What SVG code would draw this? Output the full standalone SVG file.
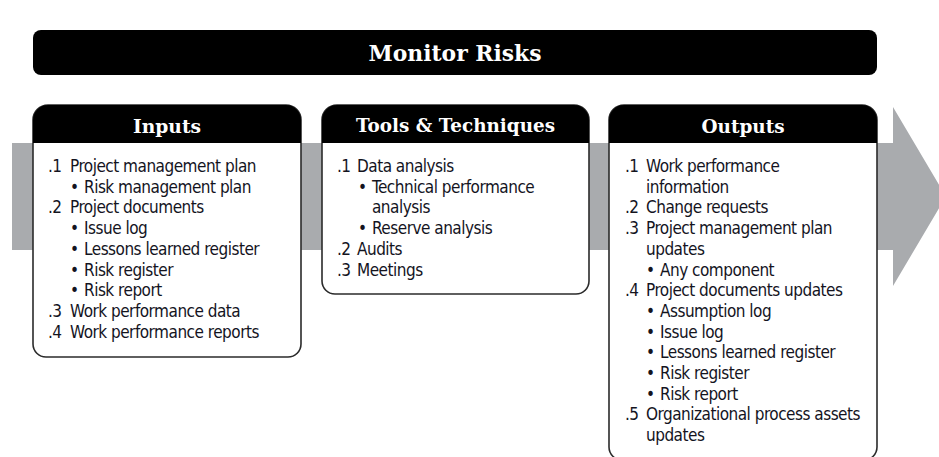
<svg xmlns="http://www.w3.org/2000/svg" width="939" height="457" viewBox="0 0 939 457">
<style>
.box{fill:#fff;stroke:#2b2b2b;stroke-width:1.6}
.hdr{fill:#000}
.ht{font-family:"DejaVu Serif","Liberation Serif",serif;font-weight:bold;fill:#fff;text-anchor:middle}
.t{font-family:"DejaVu Sans Condensed","Liberation Sans",sans-serif;font-size:17px;letter-spacing:-0.5px;fill:#14141e}
</style>
<rect width="939" height="457" fill="#fff"/>
<g id="flow-arrow">
<path d="M12,143 H893 V107 L946,196.5 L893,286 V250 H12 Z" fill="#a9abae"/>
</g>
<g id="title">
<rect x="33" y="30" width="844" height="45" rx="8" fill="#000"/>
<text class="ht" x="455" y="61" font-size="22" textLength="173" lengthAdjust="spacingAndGlyphs">Monitor Risks</text>
</g>
<g id="inputs">
<path class="box" d="M33,120 A15,15 0 0 1 48,105 H286 A15,15 0 0 1 301,120 V344 A13,13 0 0 1 288,357 H46 A13,13 0 0 1 33,344 Z"/>
<path class="hdr" d="M33,143 V120 A15,15 0 0 1 48,105 H286 A15,15 0 0 1 301,120 V143 Z"/>
<text class="ht" x="167" y="133" font-size="18" textLength="68" lengthAdjust="spacingAndGlyphs">Inputs</text>
<text class="t" x="48" y="172">.1</text><text class="t" x="70" y="172">Project management plan</text>
<text class="t" x="70" y="192.7">•</text><text class="t" x="84" y="192.7">Risk management plan</text>
<text class="t" x="48" y="213.4">.2</text><text class="t" x="70" y="213.4">Project documents</text>
<text class="t" x="70" y="234.1">•</text><text class="t" x="84" y="234.1">Issue log</text>
<text class="t" x="70" y="254.8">•</text><text class="t" x="84" y="254.8">Lessons learned register</text>
<text class="t" x="70" y="275.5">•</text><text class="t" x="84" y="275.5">Risk register</text>
<text class="t" x="70" y="296.2">•</text><text class="t" x="84" y="296.2">Risk report</text>
<text class="t" x="48" y="316.9">.3</text><text class="t" x="70" y="316.9">Work performance data</text>
<text class="t" x="48" y="337.6">.4</text><text class="t" x="70" y="337.6">Work performance reports</text>
</g>
<g id="tools">
<path class="box" d="M322,120 A15,15 0 0 1 337,105 H574 A15,15 0 0 1 589,120 V281 A13,13 0 0 1 576,294 H335 A13,13 0 0 1 322,281 Z"/>
<path class="hdr" d="M322,143 V120 A15,15 0 0 1 337,105 H574 A15,15 0 0 1 589,120 V143 Z"/>
<text class="ht" x="455.5" y="132" font-size="18" textLength="199" lengthAdjust="spacingAndGlyphs">Tools &amp; Techniques</text>
<text class="t" x="337" y="172">.1</text><text class="t" x="357" y="172">Data analysis</text>
<text class="t" x="358" y="192.7">•</text><text class="t" x="372" y="192.7">Technical performance</text>
<text class="t" x="372" y="213.4">analysis</text>
<text class="t" x="358" y="234.1">•</text><text class="t" x="372" y="234.1">Reserve analysis</text>
<text class="t" x="337" y="254.8">.2</text><text class="t" x="357" y="254.8">Audits</text>
<text class="t" x="337" y="275.5">.3</text><text class="t" x="357" y="275.5">Meetings</text>
</g>
<g id="outputs">
<path class="box" d="M609,120 A15,15 0 0 1 624,105 H862 A15,15 0 0 1 877,120 V447 A13,13 0 0 1 864,460 H622 A13,13 0 0 1 609,447 Z"/>
<path class="hdr" d="M609,143 V120 A15,15 0 0 1 624,105 H862 A15,15 0 0 1 877,120 V143 Z"/>
<text class="ht" x="743" y="133" font-size="18" textLength="83" lengthAdjust="spacingAndGlyphs">Outputs</text>
<text class="t" x="625" y="172">.1</text><text class="t" x="646" y="172">Work performance</text>
<text class="t" x="646" y="192.7">information</text>
<text class="t" x="625" y="213.4">.2</text><text class="t" x="646" y="213.4">Change requests</text>
<text class="t" x="625" y="234.1">.3</text><text class="t" x="646" y="234.1">Project management plan</text>
<text class="t" x="646" y="254.8">updates</text>
<text class="t" x="646" y="275.5">•</text><text class="t" x="660" y="275.5">Any component</text>
<text class="t" x="625" y="296.2">.4</text><text class="t" x="646" y="296.2">Project documents updates</text>
<text class="t" x="646" y="316.9">•</text><text class="t" x="660" y="316.9">Assumption log</text>
<text class="t" x="646" y="337.6">•</text><text class="t" x="660" y="337.6">Issue log</text>
<text class="t" x="646" y="358.3">•</text><text class="t" x="660" y="358.3">Lessons learned register</text>
<text class="t" x="646" y="379">•</text><text class="t" x="660" y="379">Risk register</text>
<text class="t" x="646" y="399.7">•</text><text class="t" x="660" y="399.7">Risk report</text>
<text class="t" x="625" y="420.4">.5</text><text class="t" x="646" y="420.4">Organizational process assets</text>
<text class="t" x="646" y="441.1">updates</text>
</g>
</svg>
